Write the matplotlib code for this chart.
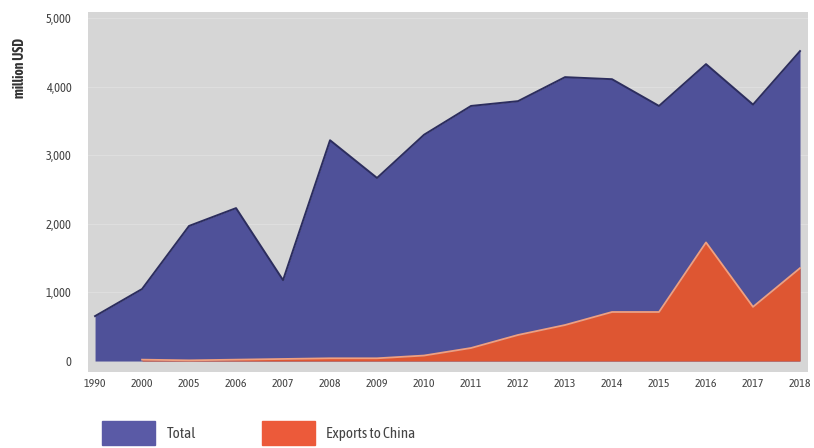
import matplotlib
matplotlib.use("Agg")
import matplotlib.pyplot as plt
from matplotlib.patches import Rectangle
import numpy as np

years = ["1990", "2000", "2005", "2006", "2007", "2008", "2009", "2010",
         "2011", "2012", "2013", "2014", "2015", "2016", "2017", "2018"]
total = [655, 1050, 1970, 2230, 1180, 3220, 2670, 3300,
         3720, 3790, 4140, 4110, 3720, 4330, 3740, 4520]
china = [np.nan, 20, 10, 20, 30, 40, 40, 80,
         190, 380, 525, 715, 715, 1730, 790, 1355]
yticks = [0, 1000, 2000, 3000, 4000, 5000]
ytick_labels = ["0", "1,000", "2,000", "3,000", "4,000", "5,000"]

plt.rcParams['font.family'] = ['Asap Condensed', 'DejaVu Sans']

fig = plt.figure(figsize=(8.14, 4.48), dpi=100)
ax = fig.add_axes([88/814, 1-372/448, 720/814, 360/448])
ax.set_facecolor("#d6d6d6")

x = np.arange(len(years))
ax.fill_between(x, 0, total, color="#4f5199", lw=0, zorder=2)
ax.plot(x, total, color="#2c2d5e", lw=1.4, zorder=3)
xc = x[1:]
cc = np.array(china[1:])
ax.fill_between(xc, 0, cc, color="#de5632", lw=0, zorder=4)
ax.plot(xc, cc, color="#f0a080", lw=1.3, zorder=5)

for yt in yticks[1:]:
    ax.axhline(yt, color="#e0e0e0", lw=0.6, zorder=1)

ax.set_xlim(-0.15, len(years) - 1 + 0.17)
ax.set_ylim(-160, 5090)
ax.set_xticks(x)
ax.set_xticklabels(years, fontsize=8.5, color="#444444")
ax.set_yticks(yticks)
ax.set_yticklabels(ytick_labels, fontsize=9, color="#444444")
ax.tick_params(axis="both", length=0)
ax.tick_params(axis="y", pad=12)
ax.tick_params(axis="x", pad=4)
for s in ax.spines.values():
    s.set_visible(False)

fig.text(20/814, 1-68/448, "million USD", rotation=90, ha="center", va="center",
         fontsize=10, color="#333333", fontweight="bold")

# legend
fig.patches.append(Rectangle((102/814, 1-445/448), 53/814, 24/448,
                             transform=fig.transFigure, color="#5a5aa6", figure=fig))
fig.text(167/814, 1-434/448, "Total", fontsize=11, color="#444444", va="center")
fig.patches.append(Rectangle((262/814, 1-445/448), 53/814, 24/448,
                             transform=fig.transFigure, color="#ec5a3a", figure=fig))
fig.text(326/814, 1-434/448, "Exports to China", fontsize=11, color="#444444", va="center")

fig.savefig("out.png", dpi=100)
